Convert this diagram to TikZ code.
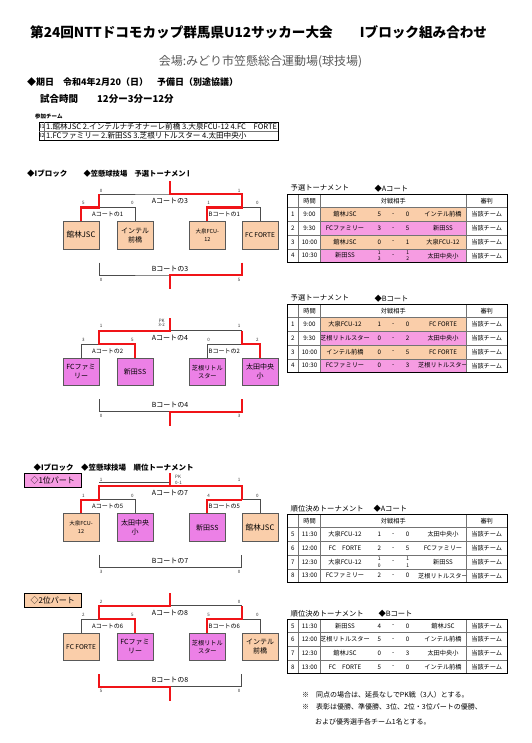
\documentclass[tikz,border=0pt]{standalone}
\usepackage{fontspec}
\setmainfont{Noto Sans CJK JP}
\usetikzlibrary{positioning}

\definecolor{peach}{RGB}{250,206,170}
\definecolor{orchid}{RGB}{236,128,230}
\definecolor{rowpink}{RGB}{246,156,226}
\definecolor{winred}{RGB}{240,20,24}
\newcommand\fs[2]{\fontsize{#1}{#2}\selectfont}
\newcommand\stk[2]{{\fs{5}{5}\shortstack{#1\\#2}}}

\begin{document}
\begin{tikzpicture}[x=1pt,y=-1pt,
  every node/.style={inner sep=0pt},
  team/.style={draw=black!65,line width=0.7pt,minimum width=36pt,minimum height=27.5pt,anchor=north west,align=center,font=\fs{7}{9}},
  small/.style={font=\fs{5.5}{7.5}},
  narrow/.style={font=\fs{6.2}{8.5}},
  lose/.style={black!70,line width=0.7pt},
  win/.style={winred,line width=2.2pt},
  sc/.style={font=\fs{4.5}{5},text=black!80},
  court/.style={font=\fs{6}{7}},
  head/.style={anchor=west,font=\fs{7.5}{8}\bfseries},
  ttl/.style={anchor=west,font=\fs{7.3}{8}},
  cell/.style={font=\fs{6.2}{7}},
  tline/.style={black!55,line width=0.5pt},
  part/.style={draw,line width=0.8pt,minimum width=56.7pt,minimum height=13.3pt,anchor=north west,font=\fs{8}{9}}]

\fill[white] (0,0) rectangle (531,743);
\useasboundingbox (0,0) rectangle (531,743);

% title block
\node[anchor=west,font=\fs{13.6}{15}\bfseries] (title) at (30,32) {第24回NTTドコモカップ群馬県U12サッカー大会　　Iブロック組み合わせ};
\node[font=\fs{12}{13},text=black!65] (venue) at (260.5,62) {会場:みどり市笠懸総合運動場(球技場)};
\node[anchor=west,font=\fs{9}{10}\bfseries] (date) at (27,82) {◆期日　令和4年2月20（日）　予備日（別途協議）};
\node[anchor=west,font=\fs{9.5}{10}\bfseries] (time) at (40,99) {試合時間　　12分ー3分ー12分};

% entry list
\node[anchor=west,font=\fs{5.5}{6}\bfseries] (entry) at (35,116.5) {参加チーム};
\draw[line width=0.6pt] (39,122) rectangle (278,140);
\draw[tline] (39,131) -- (278,131);
\draw[tline] (44.5,122) -- (44.5,140);
\node[anchor=west,font=\fs{5.5}{6}] (g1) at (39.8,126.5) {I1};
\node[anchor=west,font=\fs{5.5}{6}] (g2) at (39.8,135.5) {I2};
\node[anchor=west,font=\fs{7.6}{8}] (g1t) at (46,126.5) {1.館林JSC 2.インテルナチオナーレ前橋 3.大泉FCU-12 4.FC　FORTE};
\node[anchor=west,font=\fs{7.6}{8}] (g2t) at (46,135.5) {1.FCファミリー 2.新田SS 3.芝根リトルスター 4.太田中央小};

% section headings
\node[head] (hd1) at (27,174) {◆Iブロック};
\begin{scope}
  \clip (80,166) rectangle (188,182);
  \node[head,font=\fs{7.3}{8}\bfseries] (hd2) at (83.3,174) {◆笠懸球技場　予選トーナメント};
\end{scope}
\node[head] (hd3) at (33.3,467.3) {◆Iブロック　◆笠懸球技場　順位トーナメント};
\node[part,fill=rowpink] (part1) at (24,473.3) {◇1位パート};
\node[part,fill=peach] (part2) at (24,593.3) {◇2位パート};

% teams
\begin{scope}[shift={(0,221)}]
  \node[team,fill=peach,font=\fs{7.6}{9}] (p1) at (62.7,0) {館林JSC};
  \node[team,fill=peach] (p2) at (116.7,0) {インテル\\前橋};
  \node[team,fill=peach,small] (p3) at (189,0) {大泉FCU-\\12};
  \node[team,fill=peach,font=\fs{6.6}{8}] (p4) at (241.7,0) {FC FORTE};
\end{scope}
\begin{scope}[shift={(0,357.7)}]
  \node[team,fill=orchid] (q1) at (62.7,0) {FCファミ\\リー};
  \node[team,fill=orchid] (q2) at (116.7,0) {新田SS};
  \node[team,fill=orchid,narrow] (q3) at (189,0) {芝根リトル\\スター};
  \node[team,fill=orchid] (q4) at (241.7,0) {太田中央\\小};
\end{scope}
\begin{scope}[shift={(0,513.3)}]
  \node[team,fill=peach,small] (r1) at (62.7,0) {大泉FCU-\\12};
  \node[team,fill=orchid] (r2) at (116.7,0) {太田中央\\小};
  \node[team,fill=orchid] (r3) at (189,0) {新田SS};
  \node[team,fill=peach,font=\fs{7.6}{9}] (r4) at (241.7,0) {館林JSC};
\end{scope}
\begin{scope}[shift={(0,632.7)}]
  \node[team,fill=peach,font=\fs{6.6}{8}] (s1) at (62.7,0) {FC FORTE};
  \node[team,fill=orchid] (s2) at (116.7,0) {FCファミ\\リー};
  \node[team,fill=orchid,narrow] (s3) at (189,0) {芝根リトル\\スター};
  \node[team,fill=peach] (s4) at (241.7,0) {インテル\\前橋};
\end{scope}

% bracket lines
\foreach \k/\y/\ia/\ob in {p/221/1/3,q/357.7/2/4,r/513.3/5/7,s/632.7/6/8}{
  \begin{scope}[shift={(0,\y)}]
    \coordinate (\k li) at (99,-13.5);
    \coordinate (\k ri) at (241.7,-13.5);
    \coordinate (\k t) at (170,-27);
    \coordinate (\k u) at (170,-40);
    \coordinate (\k ll) at (99,41.5);
    \coordinate (\k rl) at (241.7,41.5);
    \coordinate (\k b) at (170,54);
    \coordinate (\k e) at (170,68);
    \draw[lose] (\k 1.north) |- (\k li) -| (\k 2.north);
    \draw[lose] (\k 3.north) |- (\k ri) -| (\k 4.north);
    \draw[lose] (\k li) |- (\k t) -| (\k ri);
    \draw[lose] (\k ll) |- (\k b) -| (\k rl);
    \node[court] (\k ca) at (107.7,-6.7) {Aコートの\ia};
    \node[court] (\k cb) at (224.3,-6.7) {Bコートの\ia};
    \node[court,font=\fs{7}{8}] (\k co) at (170,-20) {Aコートの\ob};
    \node[court,font=\fs{7}{8}] (\k cl) at (170,47.5) {Bコートの\ob};
  \end{scope}
}

% scores
\foreach \k/\y/\oy/\ua/\ub/\uc/\ud/\va/\vb/\wa/\wb in {p/221/-30.5/5/0/1/0/0/1/0/5,q/357.7/-31.5/3/5/0/2/1/1/0/3,r/513.3/-33.5/1/0/4/0/1/1/3/0,s/632.7/-31/2/5/5/0/2/0/5/0}{
  \begin{scope}[shift={(0,\y)}]
    \node[sc] (\k s1) at (83.3,-17.7) {\ua};
    \node[sc] (\k s2) at (132.3,-17.7) {\ub};
    \node[sc] (\k s3) at (208.7,-17.7) {\uc};
    \node[sc] (\k s4) at (257.3,-17.7) {\ud};
    \node[sc] (\k s5) at (101,\oy) {\va};
    \node[sc] (\k s6) at (239,\oy) {\vb};
    \node[sc] (\k s7) at (101,58.5) {\wa};
    \node[sc] (\k s8) at (239,58.5) {\wb};
  \end{scope}
}
\node[sc,align=center,font=\fs{4.5}{4.6}] (pkq) at (161.7,322.8) {PK\\3-2};
\node[sc,align=left,anchor=west,font=\fs{4.5}{6}] (pkr) at (175,480) {PK\\0-1};

% winners
\draw[win] (p1.north) |- (pli) -- (pli |- pt);
\draw[win] (p3.north) |- (pri) |- (pt) -- (pu);
\draw[win] (prl) |- (pb) -- (pe);
\draw[win] (q2.north) |- (qli) |- (qt) -- (qu);
\draw[win] (q4.north) |- (qri) -- (qri |- qt);
\draw[win] (qrl) |- (qb) -- (qe);
\path (rli |- rt) ++(0,-3.5) coordinate (rg);
\draw[lose] (rg) -- (rg -| rt);
\draw[win] (r1.north) |- (rli) |- (rt) -| (rri);
\draw[win] (r3.north) |- (rri);
\draw[win] (rt) -- (ru);
\draw[win] (s2.north) |- (sli) |- (st) -- (su);
\draw[win] (s3.north) |- (sri) -- (sri |- st);
\draw[win] (sll) |- (sb) -- (se);

% 予選 Aコート
\node[ttl] (ta) at (290.5,188.3) {予選トーナメント};
\node[ttl] (tac) at (374.3,188.3) {◆Aコート};
\begin{scope}[shift={(0,194)}]
  \foreach \n/\tm/\ta/\ga/\gb/\tb/\cl [count=\i] in {
    1/9:00/館林JSC/5/0/インテル前橋/peach,
    2/9:30/FCファミリー/3/5/新田SS/rowpink,
    3/10:00/館林JSC/0/1/大泉FCU-12/peach,
    4/10:30/新田SS/{\stk{1}{3}}/{\stk{1}{2}}/太田中央小/rowpink}{
    \fill[\cl] (320.7,13.7*\i) rectangle (466,13.7*\i+13.7);
    \node[cell] (a\i n) at (292.8,13.7*\i+6.85) {\n};
    \node[cell] (a\i t) at (309.5,13.7*\i+6.85) {\tm};
    \node[cell] (a\i a) at (345,13.7*\i+6.85) {\ta};
    \node[cell] (a\i x) at (379.3,13.7*\i+6.85) {\ga};
    \node[cell] (a\i d) at (393.3,13.7*\i+6.85) {-};
    \node[cell] (a\i y) at (407.7,13.7*\i+6.85) {\gb};
    \node[cell] (a\i b) at (443,13.7*\i+6.85) {\tb};
    \node[cell] (a\i j) at (486.7,13.7*\i+6.85) {当該チーム};
  }
  \foreach \i in {1,...,4} \draw[tline] (287.3,13.7*\i) -- (507.7,13.7*\i);
  \foreach \x in {298.3,320.7,466} \draw[tline] (\x,0) -- (\x,68.5);
  \draw[line width=0.7pt] (287.3,0) rectangle (507.7,68.5);
  \node[cell] (ah1) at (309.5,6.85) {時間};
  \node[cell] (ah2) at (393.3,6.85) {対戦相手};
  \node[cell] (ah3) at (486.7,6.85) {審判};
\end{scope}

% 予選 Bコート
\node[ttl] (tb) at (290.5,298.3) {予選トーナメント};
\node[ttl] (tbc) at (374.3,298.3) {◆Bコート};
\begin{scope}[shift={(0,304)}]
  \foreach \n/\tm/\ta/\ga/\gb/\tb/\cl [count=\i] in {
    1/9:00/大泉FCU-12/1/0/FC FORTE/peach,
    2/9:30/芝根リトルスター/0/2/太田中央小/rowpink,
    3/10:00/インテル前橋/0/5/FC FORTE/peach,
    4/10:30/FCファミリー/0/3/芝根リトルスター/rowpink}{
    \fill[\cl] (320.7,13.7*\i) rectangle (466,13.7*\i+13.7);
    \node[cell] (b\i n) at (292.8,13.7*\i+6.85) {\n};
    \node[cell] (b\i t) at (309.5,13.7*\i+6.85) {\tm};
    \node[cell] (b\i a) at (345,13.7*\i+6.85) {\ta};
    \node[cell] (b\i x) at (379.3,13.7*\i+6.85) {\ga};
    \node[cell] (b\i d) at (393.3,13.7*\i+6.85) {-};
    \node[cell] (b\i y) at (407.7,13.7*\i+6.85) {\gb};
    \node[cell] (b\i b) at (443,13.7*\i+6.85) {\tb};
    \node[cell] (b\i j) at (486.7,13.7*\i+6.85) {当該チーム};
  }
  \foreach \i in {1,...,4} \draw[tline] (287.3,13.7*\i) -- (507.7,13.7*\i);
  \foreach \x in {298.3,320.7,466} \draw[tline] (\x,0) -- (\x,68.5);
  \draw[line width=0.7pt] (287.3,0) rectangle (507.7,68.5);
  \node[cell] (bh1) at (309.5,6.85) {時間};
  \node[cell] (bh2) at (393.3,6.85) {対戦相手};
  \node[cell] (bh3) at (486.7,6.85) {審判};
\end{scope}

% 順位 Aコート
\node[ttl] (tc) at (290.5,508.3) {順位決めトーナメント};
\node[ttl] (tcc) at (373.3,508.3) {◆Aコート};
\begin{scope}[shift={(0,514)}]
  \foreach \n/\tm/\ta/\ga/\gb/\tb [count=\i] in {
    5/11:30/大泉FCU-12/1/0/太田中央小,
    6/12:00/FC　FORTE/2/5/FCファミリー,
    7/12:30/大泉FCU-12/{\stk{1}{0}}/{\stk{1}{1}}/新田SS,
    8/13:00/FCファミリー/2/0/芝根リトルスター}{
    \node[cell] (c\i n) at (292.8,13.7*\i+6.85) {\n};
    \node[cell] (c\i t) at (309.5,13.7*\i+6.85) {\tm};
    \node[cell] (c\i a) at (345,13.7*\i+6.85) {\ta};
    \node[cell] (c\i x) at (379.3,13.7*\i+6.85) {\ga};
    \node[cell] (c\i d) at (393.3,13.7*\i+6.85) {-};
    \node[cell] (c\i y) at (407.7,13.7*\i+6.85) {\gb};
    \node[cell] (c\i b) at (443,13.7*\i+6.85) {\tb};
    \node[cell] (c\i j) at (486.7,13.7*\i+6.85) {当該チーム};
  }
  \foreach \i in {1,...,4} \draw[tline] (287.3,13.7*\i) -- (507.7,13.7*\i);
  \foreach \x in {298.3,320.7,466} \draw[tline] (\x,0) -- (\x,68.5);
  \draw[line width=0.7pt] (287.3,0) rectangle (507.7,68.5);
  \node[cell] (ch1) at (309.5,6.85) {時間};
  \node[cell] (ch2) at (393.3,6.85) {対戦相手};
  \node[cell] (ch3) at (486.7,6.85) {審判};
\end{scope}

% 順位 Bコート
\node[ttl] (td) at (290.5,614) {順位決めトーナメント};
\node[ttl] (tdc) at (378.3,614) {◆Bコート};
\begin{scope}[shift={(0,619)}]
  \foreach \n/\tm/\ta/\ga/\gb/\tb [count=\i from 0] in {
    5/11:30/新田SS/4/0/館林JSC,
    6/12:00/芝根リトルスター/5/0/インテル前橋,
    7/12:30/館林JSC/0/3/太田中央小,
    8/13:00/FC　FORTE/5/0/インテル前橋}{
    \node[cell] (d\i n) at (292.8,13.7*\i+6.85) {\n};
    \node[cell] (d\i t) at (309.5,13.7*\i+6.85) {\tm};
    \node[cell] (d\i a) at (345,13.7*\i+6.85) {\ta};
    \node[cell] (d\i x) at (379.3,13.7*\i+6.85) {\ga};
    \node[cell] (d\i d) at (393.3,13.7*\i+6.85) {-};
    \node[cell] (d\i y) at (407.7,13.7*\i+6.85) {\gb};
    \node[cell] (d\i b) at (443,13.7*\i+6.85) {\tb};
    \node[cell] (d\i j) at (486.7,13.7*\i+6.85) {当該チーム};
  }
  \foreach \i in {1,...,3} \draw[tline] (287.3,13.7*\i) -- (507.7,13.7*\i);
  \foreach \x in {298.3,320.7,466} \draw[tline] (\x,0) -- (\x,54.8);
  \draw[line width=0.7pt] (287.3,0) rectangle (507.7,54.8);
\end{scope}

% notes
\node[anchor=west,font=\fs{7}{8}] (n1) at (302,695) {※　同点の場合は、延長なしでPK戦（3人）とする。};
\node[anchor=west,font=\fs{7}{8}] (n2) at (302,707.3) {※　表彰は優勝、準優勝、3位、2位・3位パートの優勝、};
\node[anchor=west,font=\fs{7}{8}] (n3) at (315,721.7) {および優秀選手各チーム1名とする。};

\end{tikzpicture}
\end{document}
